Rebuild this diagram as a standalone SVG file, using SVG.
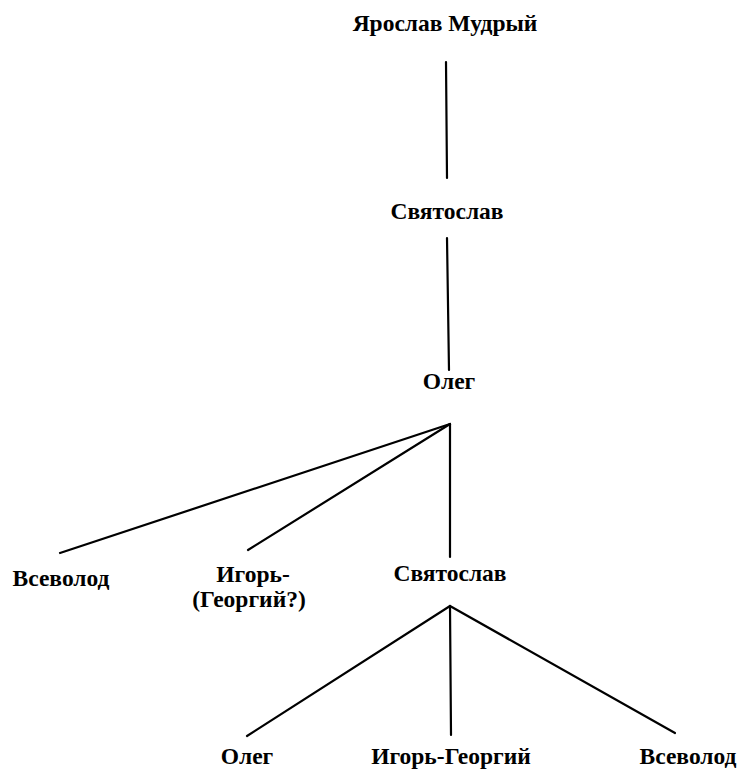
<svg xmlns="http://www.w3.org/2000/svg" width="741" height="772" viewBox="0 0 741 772">
<style>
text{font-family:"Liberation Serif","Times New Roman",serif;font-weight:bold;font-size:23.5px;fill:#000;text-anchor:middle}
.c line{stroke:#000;stroke-width:2.2;stroke-linecap:round}
</style>
<rect width="741" height="772" fill="#fff"/>
<g class="c" id="connectors">
<line x1="446" y1="62" x2="447" y2="178"/>
<line x1="447" y1="238" x2="449" y2="370"/>
<line x1="450" y1="424" x2="60" y2="553"/>
<line x1="450" y1="424" x2="248" y2="550"/>
<line x1="450" y1="424" x2="450" y2="557"/>
<line x1="450" y1="606" x2="247" y2="736"/>
<line x1="450" y1="606" x2="451" y2="735"/>
<line x1="450" y1="606" x2="675" y2="733"/>
</g>
<g id="n1"><text x="445" y="31">Ярослав Мудрый</text></g>
<g id="n2"><text x="447" y="219">Святослав</text></g>
<g id="n3"><text x="449" y="389">Олег</text></g>
<g id="n4"><text x="61" y="586">Всеволод</text></g>
<g id="n5"><text x="253" y="582">Игорь-</text><text x="249" y="607">(Георгий?)</text></g>
<g id="n6"><text x="450" y="581">Святослав</text></g>
<g id="n7"><text x="247" y="764">Олег</text></g>
<g id="n8"><text x="451" y="764">Игорь-Георгий</text></g>
<g id="n9"><text x="688" y="764">Всеволод</text></g>
</svg>
